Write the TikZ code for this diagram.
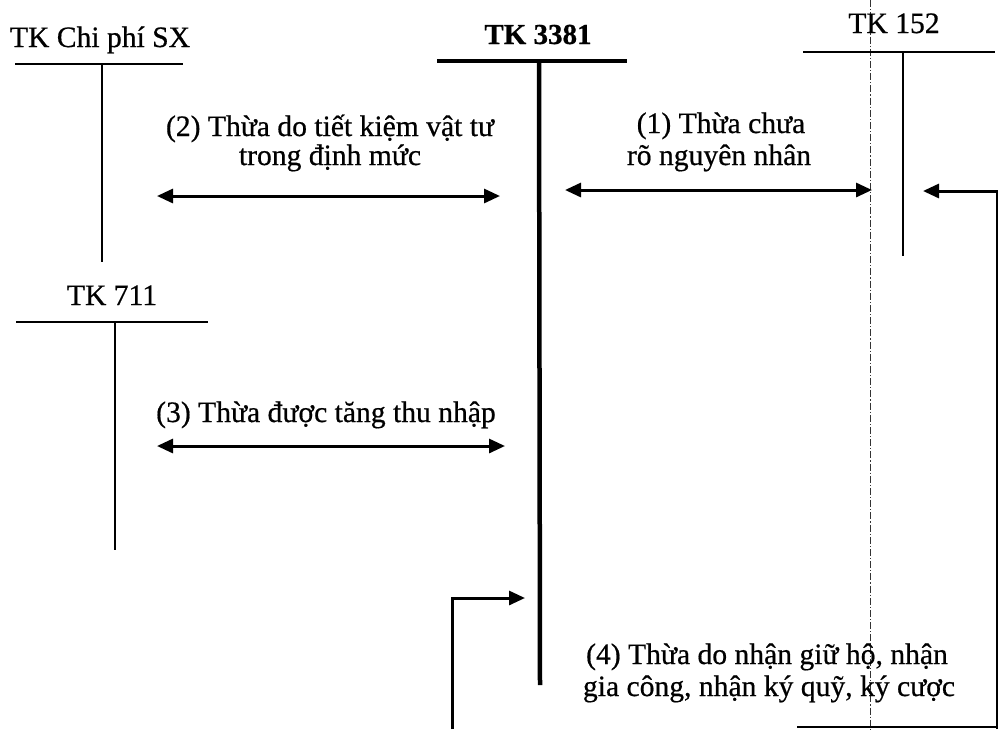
\documentclass[tikz,border=0pt]{standalone}
\usepackage{fontspec}
\setmainfont{Liberation Serif}[FakeBold=0.6]
\usetikzlibrary{arrows.meta}
\begin{document}
\begin{tikzpicture}[x=1pt,y=-1pt,
  lbl/.style={font=\fontsize{29.6}{32}\selectfont, inner sep=0pt, anchor=base},
  acct/.style={font=\fontsize{29.6}{32}\selectfont, inner sep=0pt, anchor=base},
  acctbold/.style={font=\fontsize{29}{32}\selectfont\bfseries, inner sep=0pt, anchor=base},
  tline/.style={line width=2.6pt},
  tthick/.style={line width=4.5pt},
  flow/.style={line width=3pt, -{Triangle[length=16pt,width=14pt]}},
  both/.style={line width=3pt, {Triangle[length=16pt,width=14pt]}-{Triangle[length=16pt,width=14pt]}},
  fold/.style={line width=0.8pt, dash pattern=on 7pt off 2pt on 1.2pt off 2pt, black!80}
]
\useasboundingbox (0,0) rectangle (998,729);

% page fold line
\coordinate (foldtop) at (870,0);
\coordinate (foldbot) at (870,729);
\draw[fold] (foldtop) -- (foldbot);

% T-account: TK Chi phi SX
\node[acct] (cp) at (100,47) {TK Chi phí SX};
\coordinate (cpL) at (15,64);
\coordinate (cpR) at (183,64);
\coordinate (cpT) at (102,64);
\coordinate (cpB) at (102,262);
\draw[tline] (cpL) -- (cpR);
\draw[tline] (cpT) -- (cpB);

% T-account: TK 711
\node[acct] (tn) at (112,305) {TK 711};
\coordinate (tnL) at (16,322);
\coordinate (tnR) at (208,322);
\coordinate (tnT) at (115,322);
\coordinate (tnB) at (115,550);
\draw[tline] (tnL) -- (tnR);
\draw[tline] (tnT) -- (tnB);

% T-account: TK 3381
\node[acctbold] (pt) at (538,44) {TK 3381};
\coordinate (ptL) at (437,61);
\coordinate (ptR) at (627,61);
\coordinate (ptT) at (539,61);
\coordinate (ptB) at (540,685);
\draw[tthick] (ptL) -- (ptR);
\draw[tthick] (ptT) -- (ptB);

% T-account: TK 152
\node[acct] (vl) at (894,33) {TK 152};
\coordinate (vlL) at (803,52);
\coordinate (vlR) at (995,52);
\coordinate (vlT) at (903,52);
\coordinate (vlB) at (903,256);
\draw[tline] (vlL) -- (vlR);
\draw[tline] (vlT) -- (vlB);

% (1)
\node[lbl] (l1a) at (721,133) {(1) Thừa chưa};
\node[lbl] (l1b) at (719,165) {rõ nguyên nhân};
\coordinate (a1s) at (565,190);
\coordinate (a1e) at (872,190);
\draw[both] (a1s) -- (a1e);

% (2)
\node[lbl] (l2a) at (330,136) {(2) Thừa do tiết kiệm vật tư};
\node[lbl] (l2b) at (330,165) {trong định mức};
\coordinate (a2s) at (157,196);
\coordinate (a2e) at (500,196);
\draw[both] (a2s) -- (a2e);

% (3)
\node[lbl] (l3) at (326,422) {(3) Thừa được tăng thu nhập};
\coordinate (a3s) at (157,446);
\coordinate (a3e) at (505,446);
\draw[both] (a3s) -- (a3e);

% incoming entry to TK 152 from the right
\coordinate (r0) at (997,729);
\coordinate (r1) at (997,191);
\coordinate (r2) at (923,191);
\draw[flow] (r0) -- (r1) -- (r2);

% (4)
\node[lbl] (l4a) at (767,664) {(4) Thừa do nhận giữ hộ, nhận};
\node[lbl] (l4b) at (769,696) {gia công, nhận ký quỹ, ký cược};
\coordinate (b0) at (452,729);
\coordinate (b1) at (452,598);
\coordinate (b2) at (525,598);
\draw[flow] (b0) -- (b1) -- (b2);

% top edge of the account below
\coordinate (bl) at (797,727);
\coordinate (br) at (998,727);
\draw[tline] (bl) -- (br);
\end{tikzpicture}
\end{document}
